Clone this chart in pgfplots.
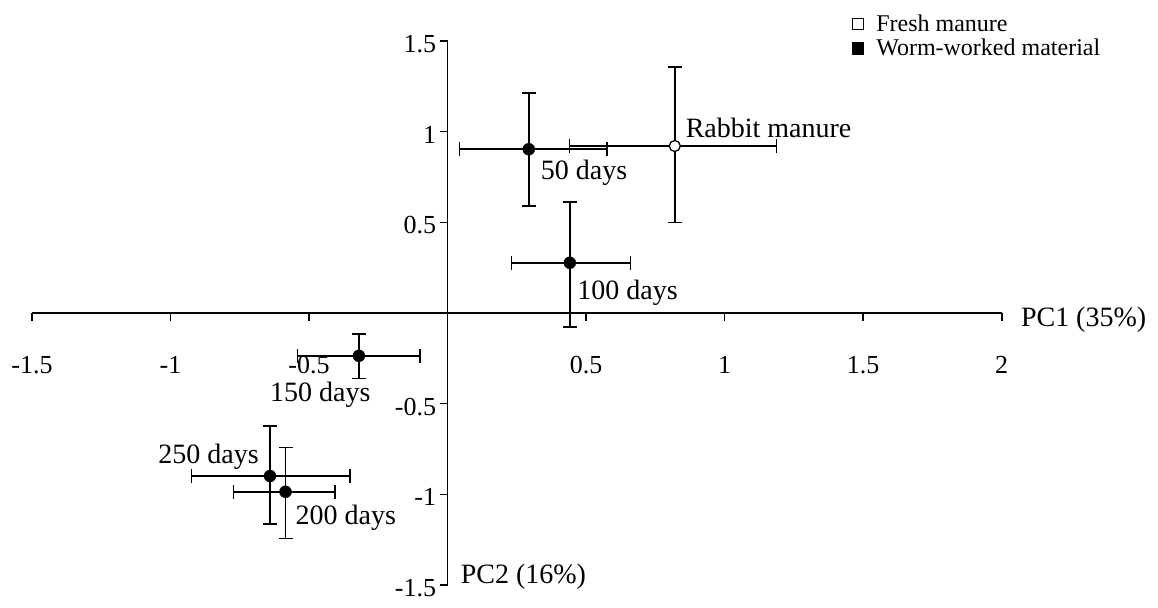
\documentclass[border=0pt]{standalone}
\usepackage{fontspec}
\setmainfont{Liberation Serif}
\usepackage{pgfplots}
\pgfplotsset{compat=1.18}

% worm-worked material: x y x+ x- y+ y-
\pgfplotstableread{
x      y      exp    exm    eyp    eym
0.293  0.903  0.283  0.250  0.309  0.313
0.441  0.277  0.219  0.210  0.335  0.353
-0.320 -0.236 0.220  0.222  0.120  0.125
-0.641 -0.899 0.289  0.283  0.277  0.266
-0.585 -0.986 0.178  0.187  0.244  0.258
}\wormdata
% fresh manure
\pgfplotstableread{
x      y      exp    exm    eyp    eym
0.820  0.921  0.367  0.380  0.434  0.423
}\freshdata

\newcommand{\tickfont}{\fontsize{26bp}{28bp}\selectfont}
\newcommand{\labfont}{\fontsize{28bp}{32bp}\selectfont}
\newcommand{\legfont}{\fontsize{24bp}{26bp}\selectfont}

\begin{document}
\begin{tikzpicture}
\begin{axis}[
  scale only axis, width=969.7bp, height=544bp,
  xmin=-1.5, xmax=2, ymin=-1.5, ymax=1.5,
  axis lines=middle, axis line style={-, line width=1.6bp, black},
  clip=false,
  xtick={-1.5,-1,-0.5,0.5,1,1.5,2},
  xticklabels={-1.5,-1,-0.5,0.5,1,1.5,2},
  ytick={-1.5,-1,-0.5,0.5,1,1.5},
  yticklabels={-1.5,-1,-0.5,0.5,1,1.5},
  tick align=outside, major tick length=8bp,
  tick style={line width=1.6bp, black},
  xticklabel style={font=\tickfont, anchor=base, yshift=-52bp},
  yticklabel style={font=\tickfont, anchor=east, yshift=-3bp},
  legend style={at={(0.8456,1.0515)}, anchor=north west, draw=none, fill=none,
    font=\legfont, inner sep=0pt, row sep=2bp, cells={anchor=west},
    /tikz/every odd column/.append style={column sep=10bp}},
  error bars/error bar style={line width=1.6bp, black},
  error bars/error mark options={rotate=90, mark size=7bp, line width=1.6bp, black},
]
\addlegendimage{legend image code/.code={\draw[black, line width=0.9bp, fill=white] (0bp,-5.6bp) rectangle (11.2bp,5.6bp);}}
\addlegendentry{Fresh manure}
\addlegendimage{legend image code/.code={\draw[black, line width=0.9bp, fill=black] (0bp,-5.6bp) rectangle (11.2bp,5.6bp);}}
\addlegendentry{Worm-worked material}

\addplot[only marks, mark=*, mark size=6bp, black, forget plot,
  error bars/.cd, x dir=both, x explicit, y dir=both, y explicit]
  table[x=x, y=y, x error plus=exp, x error minus=exm,
        y error plus=eyp, y error minus=eym] {\wormdata};
\addplot[only marks, mark=*, mark size=5.5bp, black,
  mark options={fill=white, line width=1.3bp}, forget plot,
  error bars/.cd, x dir=both, x explicit, y dir=both, y explicit]
  table[x=x, y=y, x error plus=exp, x error minus=exm,
        y error plus=eyp, y error minus=eym] {\freshdata};

\node[font=\labfont, anchor=base west, inner sep=0pt] at (axis cs:0.859,0.969) {Rabbit manure};
\node[font=\labfont, anchor=base west, inner sep=0pt] at (axis cs:0.336,0.734) {50 days};
\node[font=\labfont, anchor=base west, inner sep=0pt] at (axis cs:0.468,0.072) {100 days};
\node[font=\labfont, anchor=base west, inner sep=0pt] at (axis cs:-0.641,-0.489) {150 days};
\node[font=\labfont, anchor=base east, inner sep=0pt] at (axis cs:-0.681,-0.829) {250 days};
\node[font=\labfont, anchor=base west, inner sep=0pt] at (axis cs:-0.549,-1.165) {200 days};
\node[font=\labfont, anchor=base west, inner sep=0pt] at (axis cs:2.069,-0.076) {PC1 (35\%)};
\node[font=\labfont, anchor=base west, inner sep=0pt] at (axis cs:0.047,-1.491) {PC2 (16\%)};

\coordinate (BL) at (axis cs:-1.5,-1.5);
\coordinate (TR) at (axis cs:2,1.5);
\end{axis}
\pgfresetboundingbox
\path ([shift={(-32bp,-23bp)}]BL) rectangle ([shift={(156.3bp,41bp)}]TR);
\end{tikzpicture}
\end{document}
